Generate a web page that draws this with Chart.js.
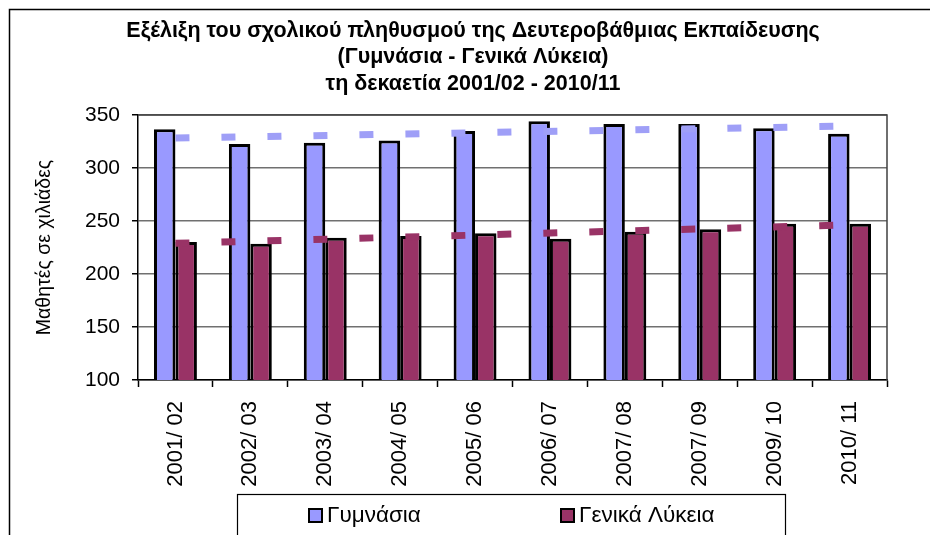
<!DOCTYPE html>
<html>
<head>
<meta charset="utf-8">
<script src="https://cdn.jsdelivr.net/npm/chart.js@4.4.1/dist/chart.umd.min.js"></script>
<style>
html,body{margin:0;padding:0;background:#fff;}
#wrap{width:930px;height:535px;position:relative;}
</style>
</head>
<body>
<div id="wrap"><canvas id="c" width="930" height="535"></canvas></div>
<script>
const categories = ['2001/ 02','2002/ 03','2003/ 04','2004/ 05','2005/ 06','2006/ 07','2007/ 08','2007/ 09','2009/ 10','2010/ 11'];
const gymnasia = [336.5, 322.6, 323.9, 326, 334.9, 344, 341.5, 341.5, 337.4, 332.4];
const lykeia = [230.2, 228.6, 234.3, 235.8, 238.4, 233.3, 239.9, 242.1, 247.5, 247.5];
const trendGymnasia = [328.2, null, null, null, null, null, null, null, null, 339.6];
const trendLykeia = [229, null, null, null, null, null, null, null, null, 246.3];
const titleLines = ['Εξέλιξη του σχολικού πληθυσμού της Δευτεροβάθμιας Εκπαίδευσης', '(Γυμνάσια - Γενικά Λύκεια)', 'τη δεκαετία 2001/02 - 2010/11'];
const seriesNames = ['Γυμνάσια', 'Γενικά Λύκεια'];
const yTitle = 'Μαθητές σε χιλιάδες';
const yTicks = [100, 150, 200, 250, 300, 350];

const FONT = '"Liberation Sans", Arial, sans-serif';
const colGym = '#9999FF';
const colLyk = '#993366';

const decor = {
  id: 'decor',
  beforeDraw(chart) {
    const ctx = chart.ctx;
    ctx.save();
    ctx.fillStyle = '#fff';
    ctx.fillRect(0, 0, chart.width, chart.height);
    ctx.strokeStyle = '#000';
    ctx.lineWidth = 1.5;
    ctx.strokeRect(9.5, 9.5, 1000, 1000);
    ctx.fillStyle = '#000';
    ctx.font = 'bold 21.5px ' + FONT;
    ctx.textAlign = 'center';
    ctx.textBaseline = 'alphabetic';
    const ys = [36.5, 63, 89.5];
    titleLines.forEach((t, i) => ctx.fillText(t, 473, ys[i]));
    ctx.restore();
  },
  afterDatasetsDraw(chart) {
    const ctx = chart.ctx;
    const a = chart.chartArea;
    ctx.save();
    ctx.strokeStyle = '#404040';
    ctx.lineWidth = 1.5;
    ctx.beginPath();
    ctx.moveTo(a.left, a.top);
    ctx.lineTo(a.right, a.top);
    ctx.lineTo(a.right, a.bottom);
    ctx.stroke();
    ctx.restore();
  },
  afterDraw(chart) {
    const ctx = chart.ctx;
    ctx.save();
    ctx.fillStyle = '#fff';
    ctx.fillRect(237, 494, 548, 60);
    ctx.strokeStyle = '#000';
    ctx.lineWidth = 1.2;
    ctx.strokeRect(237.5, 494.5, 548, 60);
    const items = [
      {x: 308, label: seriesNames[0], color: chart.data.datasets[0].backgroundColor},
      {x: 560, label: seriesNames[1], color: chart.data.datasets[1].backgroundColor}
    ];
    ctx.font = '22.5px ' + FONT;
    ctx.textBaseline = 'middle';
    ctx.textAlign = 'left';
    items.forEach(it => {
      ctx.fillStyle = it.color;
      ctx.fillRect(it.x, 508, 15, 15);
      ctx.strokeStyle = '#000';
      ctx.lineWidth = 2;
      ctx.strokeRect(it.x + 1, 509, 13, 13);
      ctx.fillStyle = '#000';
      ctx.fillText(it.label, it.x + 19, 516);
    });
    ctx.restore();
  }
};

new Chart(document.getElementById('c'), {
  data: {
    labels: categories,
    datasets: [
      {type: 'bar', label: seriesNames[0], data: gymnasia, backgroundColor: colGym, borderColor: '#000', borderWidth: 3, order: 2,
       categoryPercentage: 0.573, barPercentage: 1},
      {type: 'bar', label: seriesNames[1], data: lykeia, backgroundColor: colLyk, borderColor: '#000', borderWidth: 3, order: 2,
       categoryPercentage: 0.573, barPercentage: 1},
      {type: 'line', label: 'trend1', data: trendGymnasia, borderColor: '#9f9ff7', borderWidth: 7, borderDash: [14, 32],
       borderCapStyle: 'butt', pointRadius: 0, spanGaps: true, fill: false, order: 1},
      {type: 'line', label: 'trend2', data: trendLykeia, borderColor: colLyk, borderWidth: 7, borderDash: [14, 32],
       borderCapStyle: 'butt', pointRadius: 0, spanGaps: true, fill: false, order: 1}
    ]
  },
  options: {
    responsive: false,
    devicePixelRatio: 1,
    animation: false,
    layout: {padding: {top: 115, left: 0, right: 43, bottom: 0}},
    plugins: {legend: {display: false}, title: {display: false}, tooltip: {enabled: false}},
    scales: {
      x: {
        afterFit(s) { s.height = 155; },
        grid: {display: true, offset: true, drawOnChartArea: false, drawTicks: true, tickLength: 7, tickColor: '#000', tickWidth: 1.5},
        border: {display: true, color: '#000', width: 1.5},
        ticks: {minRotation: 90, maxRotation: 90, autoSkip: false, padding: 14, color: '#000', font: {family: FONT, size: 22}}
      },
      y: {
        min: 100, max: 350,
        afterFit(s) { s.width = 138; },
        afterBuildTicks(s) { s.ticks = yTicks.map(v => ({value: v})); },
        grid: {color: '#707070', lineWidth: 1.5, drawTicks: true, tickLength: 6, tickColor: '#000', tickWidth: 1.5},
        border: {display: true, color: '#000', width: 1.5},
        ticks: {padding: 12, color: '#000', font: {family: FONT, size: 21}},
        title: {display: true, text: yTitle, color: '#000', font: {family: FONT, size: 19.5}, padding: {top: 33, bottom: 0}}
      }
    }
  },
  plugins: [decor]
});
</script>
</body>
</html>
